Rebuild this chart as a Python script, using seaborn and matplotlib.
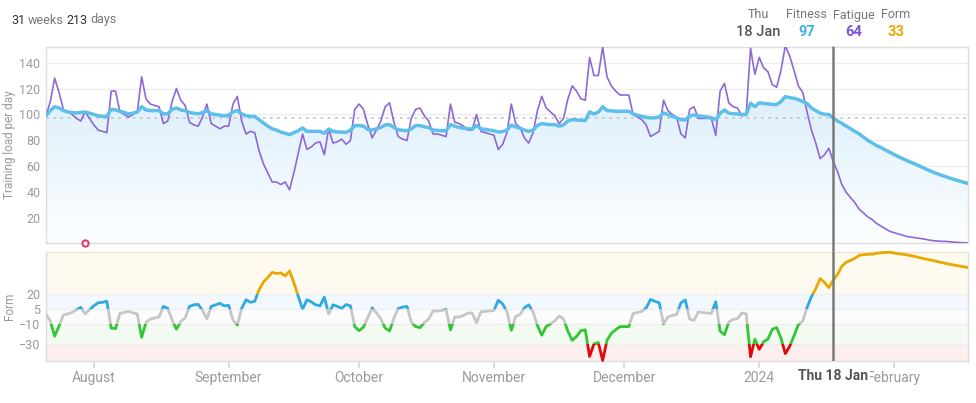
import numpy as np
import pandas as pd
import matplotlib
matplotlib.use("Agg")
import matplotlib.pyplot as plt
import matplotlib.dates as mdates
import matplotlib.transforms as mtransforms
from matplotlib.patches import Rectangle, Polygon
import seaborn as sns

# daily values, 21 Jul 2023 .. 18 Feb 2024
start = pd.Timestamp("2023-07-21")
fatigue = [
    99, 110, 128, 117, 104, 102, 100, 97, 95, 102,
    97, 92, 88, 87, 86, 118, 118, 102, 100, 98,
    100, 102, 129, 112, 108, 107, 106, 93, 95, 110,
    120, 111, 107, 94, 92, 91, 98, 108, 93, 91,
    89, 91, 91, 108, 114, 95, 85, 87, 86, 72,
    62, 55, 48, 48, 46, 48, 42, 55, 70, 85,
    73, 75, 78, 79, 69, 89, 78, 79, 81, 77,
    80, 104, 108, 104, 92, 82, 88, 95, 106, 109,
    94, 83, 81, 80, 97, 104, 105, 99, 95, 85,
    85, 84, 83, 108, 94, 93, 91, 88, 88, 100,
    87, 86, 85, 84, 73, 77, 86, 108, 93, 90,
    82, 78, 86, 103, 114, 105, 102, 99, 93, 97,
    112, 122, 118, 112, 111, 144, 130, 130, 152, 129,
    122, 118, 115, 115, 115, 100, 98, 96, 92, 83,
    85, 87, 111, 103, 100, 98, 85, 82, 104, 106,
    97, 97, 97, 97, 84, 118, 124, 109, 106, 105,
    99, 100, 151, 131, 144, 136, 133, 123, 121, 134,
    153, 145, 134, 122, 117, 102, 88, 78, 66, 69,
    74, 64, 56, 46, 40, 36, 32, 27, 24, 21,
    19, 16, 14, 12, 10, 9, 8, 7, 6, 5.5,
    5, 4.5, 4, 3.3, 2.8, 2.5, 2.3, 2.2, 1.9, 1.6,
    1.4, 1.2, 1.1,
]
fitness = [
    99, 103, 106, 105, 103, 102, 101.5, 101.2, 101.5, 102,
    101, 100, 99, 98.5, 98.5, 104, 103.5, 102.5, 101.5, 100.5,
    101, 102, 106, 103.5, 103, 103, 103, 100.5, 100.5, 104,
    105, 103.5, 103, 101.5, 101, 100.5, 101.5, 103, 100.5, 100,
    99.5, 99, 99.5, 102, 103, 100.5, 99, 98.5, 98.5, 96,
    93.5, 91, 89, 88, 86.5, 85.5, 84.5, 86, 87.5, 89.6,
    87, 87, 87, 87, 85.5, 88.8, 87, 86.5, 86.5, 86.3,
    88, 91.4, 91.5, 91, 88.5, 88, 89, 90, 92, 92.2,
    90, 88.3, 87.8, 87.5, 89, 91.5, 91.5, 90.5, 90, 88,
    87.8, 87.5, 87.5, 92.2, 91, 90, 89.5, 89, 88.8, 91.4,
    89, 88.5, 88, 87.5, 86.5, 86.8, 88, 91.8, 90.5, 89.5,
    88, 87, 88, 91.5, 93, 92.5, 92.2, 92.2, 91, 92,
    95, 96, 95.8, 95.5, 95.3, 102, 100.4, 101.8, 106, 103,
    102.8, 102.5, 102.5, 102.5, 102.5, 100.4, 99.5, 98.5, 97.8, 97.3,
    97.5, 98, 101.2, 100, 98.5, 97.5, 96, 95.8, 99, 99.6,
    99, 98.4, 98, 97.5, 96, 101, 103.5, 101, 100.6, 100.4,
    100, 100, 108.7, 106.1, 109, 108.5, 108.2, 107.8, 107.6, 110,
    113.8, 113, 112.5, 111.5, 110, 108.5, 105, 103, 101, 100.2,
    100, 97.3, 95, 93.2, 91, 89, 87, 85, 82.5, 80,
    78, 76, 74.5, 72.7, 71, 69.2, 67.5, 66, 64.4, 63,
    61.6, 60, 58.5, 57, 55.5, 54.3, 53.1, 52, 50.8, 49.8,
    48.8, 47.8, 46.9,
]
event_dates = ["2023-07-30"]
selected = "2024-01-18"
month_ticks = ["2023-08-01", "2023-09-01", "2023-10-01", "2023-11-01",
               "2023-12-01", "2024-01-01", "2024-02-01"]
month_labels = ["August", "September", "October", "November", "December", "2024", "February"]

df = pd.DataFrame({"date": pd.date_range(start, periods=len(fitness)),
                   "fitness": fitness, "fatigue": fatigue})
df["form"] = df["fitness"] - df["fatigue"]
sel = pd.Timestamp(selected)
sel_row = df[df["date"] == sel].iloc[0]

sns.set_theme(style="white")
plt.rcParams["font.family"] = ["Roboto", "DejaVu Sans"]
grey = "#9a9a9a"

fig = plt.figure(figsize=(9.76, 4.03), dpi=100)
ax1 = fig.add_axes([0.0471, 0.397, 0.9447, 0.4864])
ax2 = fig.add_axes([0.0471, 0.1042, 0.9447, 0.2712])

x0 = mdates.date2num(df["date"].iloc[0])
x1 = mdates.date2num(df["date"].iloc[-1])

# ---- top panel: fitness / fatigue
ylo, yhi = 1, 152
ax1.set_xlim(x0, x1)
ax1.set_ylim(ylo, yhi)
grad = np.linspace(0, 1, 256).reshape(-1, 1)
top_c = np.array([222, 240, 251]) / 255
bot_c = np.array([252, 254, 255]) / 255
img = bot_c + (top_c - bot_c) * grad[..., None] * np.ones((1, 2, 1))
im = ax1.imshow(img, origin="lower", aspect="auto", extent=(x0, x1, 0, 112), zorder=1)
xs = mdates.date2num(df["date"])
poly = Polygon(np.vstack([np.column_stack([xs, df["fitness"]]), [[x1, 0], [x0, 0]]]),
               closed=True, transform=ax1.transData, facecolor="none", edgecolor="none")
ax1.add_patch(poly)
im.set_clip_path(poly)

for v in range(20, 141, 20):
    ax1.axhline(v, color="#ececec", lw=0.9, zorder=0.5)
ax1.axhline(sel_row["fitness"], color="#c8c8c8", lw=1.3, ls=(0, (1.5, 2.5)), zorder=2)

sns.lineplot(data=df, x="date", y="fatigue", ax=ax1, color="#8d68d8", lw=1.2, zorder=3)
sns.lineplot(data=df, x="date", y="fitness", ax=ax1, color="#5dbfea", lw=2.5, zorder=4)
for d in event_dates:
    ax1.plot(pd.Timestamp(d), ylo + 0.3, marker="o", ms=4.5, mfc="white", mec="#e23c6e",
             mew=1.5, clip_on=False, zorder=6)

ax1.set_yticks(range(20, 141, 20))
ax1.set_xticks([])
ax1.set_xlabel("")
ax1.set_ylabel("Training load per day", color=grey, fontsize=8.5)
ax1.yaxis.set_label_coords(-0.033, 0.5)
ax1.tick_params(axis="y", length=0, labelcolor=grey, labelsize=9, pad=4)
ax1.axvline(sel, ymin=-0.045, ymax=1, color="#7a7a7a", lw=1.8, clip_on=False, zorder=7)

# ---- bottom panel: form with zones
bands = [(20, 90, "#e8a800", "#fffaf0"),
         (5, 20, "#2ea9e4", "#f2f8fd"),
         (-10, 5, "#c6c6c6", "#fcfcfc"),
         (-30, -10, "#33c633", "#f2faf2"),
         (-90, -30, "#e0090b", "#fcefee")]
blend = mtransforms.blended_transform_factory(ax2.transAxes, ax2.transData)
for lo, hi, c, bg in bands:
    ax2.axhspan(lo, hi, color=bg, zorder=0, lw=0)
    sns.lineplot(data=df, x="date", y="form", ax=ax2, color=c, lw=2.0, zorder=3)
    ax2.lines[-1].set_clip_path(Rectangle((0, lo), 1, hi - lo, transform=blend))
for v in [20, 5, -10, -30]:
    ax2.axhline(v, color="#eeeeee", lw=0.8, zorder=0.5)

ax2.set_xlim(x0, x1)
ax2.set_ylim(df["form"].min() - 0.5, df["form"].max() + 0.5)
ax2.set_yticks([20, 5, -10, -30])
ax2.set_ylabel("Form", color=grey, fontsize=8.5)
ax2.yaxis.set_label_coords(-0.033, 0.5)
ax2.set_xlabel("")
ax2.tick_params(axis="y", length=0, labelcolor=grey, labelsize=9, pad=4)
ax2.set_xticks([mdates.date2num(pd.Timestamp(t)) for t in month_ticks])
ax2.set_xticklabels(month_labels)
ax2.tick_params(axis="x", length=5, color="#d8d8d8", labelcolor=grey, labelsize=10, pad=2,
                bottom=True)
ax2.axvline(sel, color="#7a7a7a", lw=1.8, zorder=7)
ax2.text(sel, -0.137, "Thu 18 Jan", transform=mtransforms.blended_transform_factory(ax2.transData, ax2.transAxes),
         ha="center", va="center", fontsize=10, fontweight="bold", color="#555555",
         bbox=dict(facecolor="white", edgecolor="none", pad=1.5), zorder=10)

for ax in (ax1, ax2):
    for s in ax.spines.values():
        s.set_color("#dedede")
        s.set_linewidth(1)
ax2.spines["top"].set_color("#ebe3d3")

# ---- header texts
def px(x, y):
    return x / 976, 1 - y / 403

t = fig.text(*px(11, 20), "31", fontsize=9, color="#333333", va="center")
t = ax1.annotate("weeks", xy=(1, 0), xycoords=t, xytext=(2, 0), textcoords="offset points",
                 fontsize=9, color="#777777", va="bottom")
t = ax1.annotate("213", xy=(1, 0), xycoords=t, xytext=(2, 0), textcoords="offset points",
                 fontsize=9, color="#333333", va="bottom")
ax1.annotate("days", xy=(1, 0), xycoords=t, xytext=(2, 0), textcoords="offset points",
             fontsize=9, color="#777777", va="bottom")

fig.text(*px(758, 15), sel.strftime("%a"), fontsize=9, color="#777777", ha="center", va="center")
fig.text(*px(758, 31.5), "18 Jan", fontsize=10.5, color="#555555", ha="center", va="center",
         fontweight="medium")
header = [(806.5, "Fitness", sel_row["fitness"], "#3db3ea"),
          (854, "Fatigue", sel_row["fatigue"], "#7d52d8"),
          (895.5, "Form", sel_row["form"], "#e8ab06")]
for hx, name, val, col in header:
    fig.text(*px(hx, 15), name, fontsize=9, color="#777777", ha="center", va="center")
    fig.text(*px(hx, 31.5), f"{val:.0f}", fontsize=10.5, color=col, ha="center", va="center",
             fontweight="bold")

fig.savefig("out.png", dpi=100)
